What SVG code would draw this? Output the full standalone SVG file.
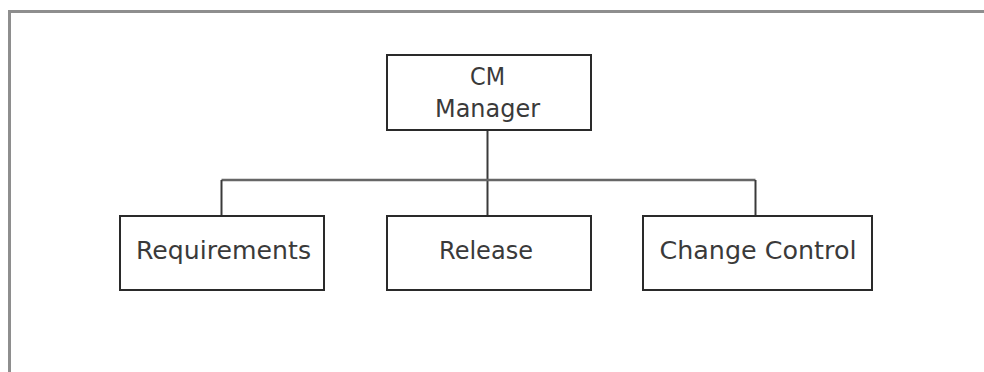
<svg xmlns="http://www.w3.org/2000/svg" width="984" height="372" viewBox="0 0 984 372">
  <style>
    .frame { fill: none; stroke: #8e8e8e; stroke-width: 3; }
    .box { fill: #ffffff; stroke: #2a2a2a; stroke-width: 2; }
    .wire { fill: none; stroke: #3a3a3a; stroke-width: 2; }
    .bar { fill: none; stroke: #666666; stroke-width: 2.5; }
    .label { font-family: "DejaVu Sans", "Liberation Sans", sans-serif; font-size: 24px; fill: #3a3a3a; text-anchor: middle; }
  </style>
  <rect width="984" height="372" fill="#ffffff"/>
  <!-- outer frame (top and left edges only) -->
  <path class="frame" d="M9.5 372 V11.5 H984"/>

  <g id="connectors">
    <line class="wire" x1="487.5" y1="130" x2="487.5" y2="216"/>
    <line class="bar" x1="221.5" y1="180" x2="755.5" y2="180"/>
    <line class="wire" x1="221.5" y1="180" x2="221.5" y2="216"/>
    <line class="wire" x1="755.5" y1="180" x2="755.5" y2="216"/>
  </g>

  <g id="cm-manager">
    <rect class="box" x="387" y="55" width="204" height="75"/>
    <text class="label" x="487.5" y="85" textLength="35" lengthAdjust="spacingAndGlyphs">CM</text>
    <text class="label" x="487.5" y="116.5" textLength="105" lengthAdjust="spacingAndGlyphs">Manager</text>
  </g>

  <g id="requirements">
    <rect class="box" x="120" y="216" width="204" height="74"/>
    <text class="label" x="223.5" y="258.5" textLength="175" lengthAdjust="spacingAndGlyphs">Requirements</text>
  </g>

  <g id="release">
    <rect class="box" x="387" y="216" width="204" height="74"/>
    <text class="label" x="486" y="258.5" textLength="94" lengthAdjust="spacingAndGlyphs">Release</text>
  </g>

  <g id="change-control">
    <rect class="box" x="643" y="216" width="229" height="74"/>
    <text class="label" x="758" y="258.5" textLength="197" lengthAdjust="spacingAndGlyphs">Change Control</text>
  </g>
</svg>
